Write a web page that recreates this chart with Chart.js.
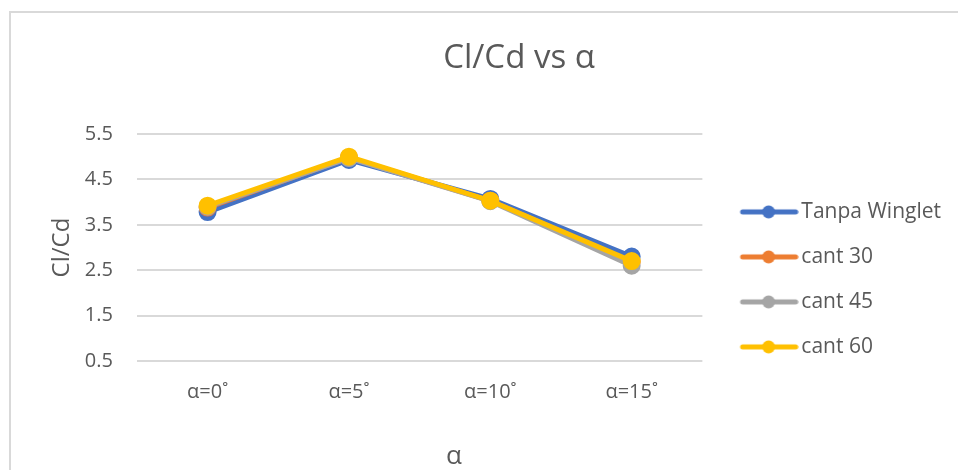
<!DOCTYPE html>
<html>
<head>
<meta charset="utf-8">
<script src="https://cdn.jsdelivr.net/npm/chart.js@4/dist/chart.umd.min.js"></script>
<style>
  html, body { margin: 0; padding: 0; background: #fff; overflow: hidden; }
  #frame {
    position: absolute; left: 9px; top: 11px;
    width: 1020px; height: 470px;
    border-top: 2px solid #d9d9d9; border-left: 2px solid #d9d9d9;
  }
  #chart { display: block; }
  .caption {
    position: absolute; text-align: center;
    font-family: 'Open Sans', 'Noto Sans', sans-serif; color: #595959;
  }
  #title { left: 319px; top: 36px; width: 400px; line-height: 40px; font-size: 33px; }
  #xTitle { left: 404px; top: 439px; width: 100px; line-height: 30px; font-size: 26px; }
</style>
</head>
<body>
<div id="frame"><canvas id="chart" width="947" height="460"></canvas></div>
<div id="title" class="caption">Cl/Cd vs α</div>
<div id="xTitle" class="caption">α</div>
<script>
const categories = ['α=0˚', 'α=5˚', 'α=10˚', 'α=15˚'];
const tanpaWinglet = [3.78, 4.93, 4.07, 2.80];
const cant30 = [3.88, 4.98, 4.03, 2.68];
const cant45 = [3.90, 4.97, 4.02, 2.60];
const cant60 = [3.92, 5.00, 4.03, 2.70];
const yTicks = [0.5, 1.5, 2.5, 3.5, 4.5, 5.5];

const textColor = '#595959';
const gridColor = '#d9d9d9';
const font = "'Open Sans', 'Noto Sans', sans-serif";

// legend swatch: short thick line with a dot, sitting in the right part of the image
function swatch(color) {
    const c = document.createElement('canvas');
    c.width = 80; c.height = 14;
    const g = c.getContext('2d');
    g.strokeStyle = color;
    g.lineWidth = 5;
    g.lineCap = 'round';
    g.beginPath();
    g.moveTo(24, 7);
    g.lineTo(77, 7);
    g.stroke();
    g.fillStyle = color;
    g.beginPath();
    g.arc(50, 7, 6.5, 0, Math.PI * 2);
    g.fill();
    return c;
}

function series(label, data, color, order) {
    return {
        label: label,
        data: data,
        order: order,
        borderColor: color,
        backgroundColor: color,
        borderWidth: 5,
        pointRadius: 6.5,
        pointHoverRadius: 6.5,
        pointBackgroundColor: color,
        pointBorderColor: color,
        swatch: swatch(color)
    };
}

new Chart(document.getElementById('chart'), {
    type: 'line',
    data: {
        labels: categories,
        datasets: [
            series('Tanpa Winglet', tanpaWinglet, '#4472c4', 4),
            series('cant 30', cant30, '#ed7d31', 3),
            series('cant 45', cant45, '#a5a5a5', 2),
            series('cant 60', cant60, '#ffc000', 1)
        ]
    },
    options: {
        responsive: false,
        animation: false,
        layout: { padding: { left: 37, right: 7, top: 121, bottom: 50 } },
        scales: {
            x: {
                offset: true,
                grid: { display: false, drawTicks: false },
                border: { display: false },
                ticks: { color: textColor, font: { family: font, size: 20 }, padding: 19 }
            },
            y: {
                min: 0.5,
                max: 5.5,
                afterBuildTicks: axis => { axis.ticks = yTicks.map(v => ({ value: v })); },
                grid: { color: gridColor, lineWidth: 2, drawTicks: false },
                border: { display: false },
                ticks: {
                    color: textColor, font: { family: font, size: 20 }, padding: 24,
                    callback: v => v.toFixed(1)
                },
                title: {
                    display: true, text: 'Cl/Cd', color: textColor,
                    font: { family: font, size: 24 }, padding: { top: 0, bottom: -16 }
                }
            }
        },
        plugins: {
            title: { display: false },
            legend: {
                position: 'right',
                align: 'start',
                maxWidth: 300,
                // empty title only reserves room above the first entry
                title: { display: true, text: '', font: { size: 12 }, padding: { top: 0, bottom: 29 } },
                labels: {
                    color: textColor,
                    font: { family: font, size: 21 },
                    usePointStyle: true,
                    pointStyleWidth: 64.5,
                    padding: 24,
                    generateLabels: chart => chart.data.datasets.map((ds, i) => ({
                        text: ds.label,
                        fontColor: textColor,
                        pointStyle: ds.swatch,
                        datasetIndex: i,
                        hidden: false
                    }))
                }
            },
            tooltip: { enabled: false }
        }
    }
});
</script>
</body>
</html>
